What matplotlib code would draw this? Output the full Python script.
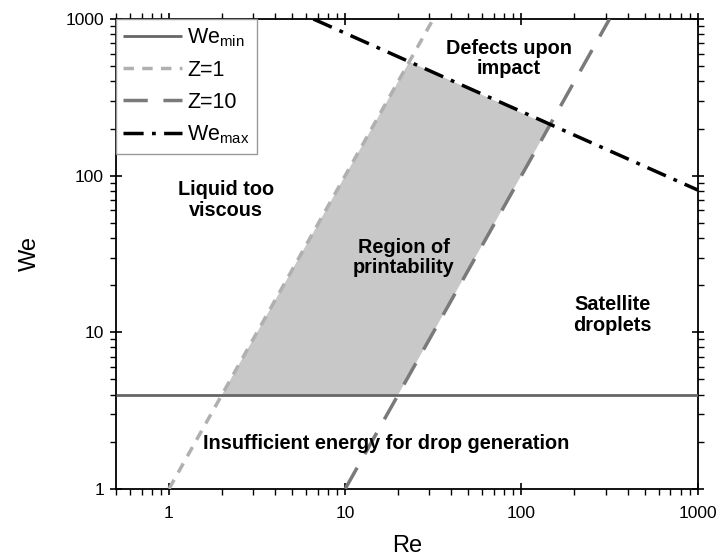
import matplotlib
matplotlib.use("Agg")
import matplotlib.pyplot as plt
from matplotlib.ticker import LogLocator, FixedLocator, FixedFormatter, NullFormatter

plt.rcParams['font.family'] = ['Liberation Sans', 'DejaVu Sans']
plt.rcParams['mathtext.fontset'] = 'custom'
plt.rcParams['mathtext.rm'] = 'Liberation Sans'

# Line endpoints (straight lines on log-log axes)
we_min_re = [0.5, 1000]
we_min_we = [4, 4]
z1_re = [1.0, 31.6]
z1_we = [1.0, 1000]
z10_re = [10.0, 316]
z10_we = [1.0, 1000]
we_max_re = [6.6, 1000]
we_max_we = [1000, 81]

# Printable region vertices
region_re = [2.0, 20.0, 144, 23.1]
region_we = [4.0, 4.0, 209, 534]

x_ticks = [1, 10, 100, 1000]
x_tick_labels = ['1', '10', '100', '1000']
y_ticks = [1, 10, 100, 1000]
y_tick_labels = ['1', '10', '100', '1000']

annotations = [
    ("Liquid too\nviscous", 2.1, 70),
    ("Region of\nprintability", 21.5, 30),
    ("Satellite\ndroplets", 330, 12.9),
    ("Defects upon\nimpact", 85, 560),
    ("Insufficient energy for drop generation", 17.0, 1.94),
]

fig = plt.figure(figsize=(7.2, 5.6), dpi=100)
ax = fig.add_axes([0.161, 0.127, 0.808, 0.839])
ax.set_xscale('log')
ax.set_yscale('log')
ax.set_xlim(0.5, 1000)
ax.set_ylim(1, 1000)

ax.fill(region_re, region_we, color='#c8c8c8', lw=0, zorder=1)

ax.plot(we_min_re, we_min_we, color='#666666', lw=2, solid_capstyle='butt', zorder=3,
        label='We$_{\\mathregular{min}}$')
ax.plot(z1_re, z1_we, color='#b0b0b0', lw=2.5, dashes=(3, 2.4), zorder=3, label='Z=1')
ax.plot(z10_re, z10_we, color='#7a7a7a', lw=2.5, dashes=(7, 4.5), zorder=3, label='Z=10')
ax.plot(we_max_re, we_max_we, color='black', lw=2.5, dashes=(5.8, 2.4, 1.1, 2.4), zorder=3,
        label='We$_{\\mathregular{max}}$')

for txt, x, y in annotations:
    ax.text(x, y, txt, ha='center', va='center', fontsize=14.3, fontweight='bold',
            linespacing=1.1, zorder=4)

ax.xaxis.set_major_locator(FixedLocator(x_ticks))
ax.xaxis.set_major_formatter(FixedFormatter(x_tick_labels))
ax.yaxis.set_major_locator(FixedLocator(y_ticks))
ax.yaxis.set_major_formatter(FixedFormatter(y_tick_labels))
ax.xaxis.set_minor_locator(LogLocator(base=10, subs=range(2, 10), numticks=20))
ax.yaxis.set_minor_locator(LogLocator(base=10, subs=range(2, 10), numticks=20))
ax.xaxis.set_minor_formatter(NullFormatter())
ax.yaxis.set_minor_formatter(NullFormatter())

ax.tick_params(which='major', direction='inout', length=9, width=1.2, labelsize=12.5,
               top=True, right=True, labeltop=False, labelright=False)
ax.tick_params(axis='x', which='major', pad=8)
ax.tick_params(axis='y', which='major', pad=4)
ax.tick_params(which='minor', direction='out', length=4, width=1.0,
               top=True, right=True)
for s in ax.spines.values():
    s.set_linewidth(1.3)

ax.set_xlabel('Re', fontsize=17, labelpad=10)
ax.set_ylabel('We', fontsize=17, labelpad=18)

leg = ax.legend(loc='upper left', fontsize=15.5, frameon=True, fancybox=False,
                edgecolor='#999999', framealpha=1, borderaxespad=0.0,
                handlelength=2.7, handletextpad=0.25, labelspacing=0.5,
                borderpad=0.35)
leg.get_frame().set_linewidth(1.0)

fig.savefig('out.png', dpi=100)
